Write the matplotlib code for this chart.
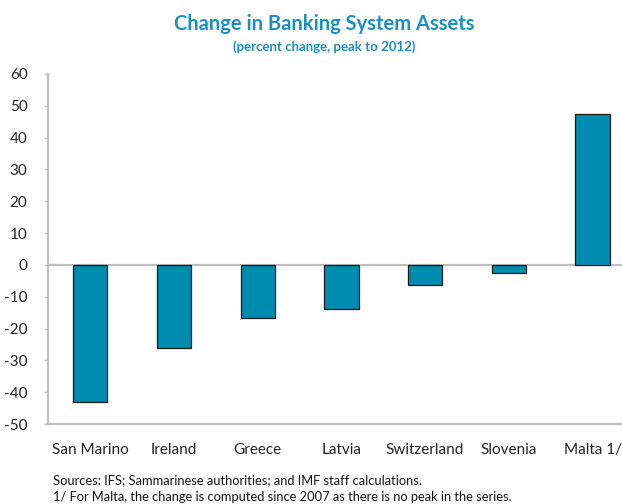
import matplotlib
matplotlib.use("Agg")
from matplotlib import pyplot as plt

# Values
countries = ["San Marino", "Ireland", "Greece", "Latvia", "Switzerland", "Slovenia", "Malta 1/"]
change = [-43.0, -26.0, -16.7, -13.8, -6.4, -2.6, 47.4]
yticks = [60, 50, 40, 30, 20, 10, 0, -10, -20, -30, -40, -50]

title = "Change in Banking System Assets"
subtitle = "(percent change, peak to 2012)"
notes = [
    "Sources: IFS; Sammarinese authorities; and IMF staff calculations.",
    "1/ For Malta, the change is computed since 2007 as there is no peak in the series.",
]

bar_color = "#008BB0"
title_color = "#1A8FC0"
axis_gray = "#BFBFBF"

plt.rcParams["font.family"] = ["Lato", "DejaVu Sans"]

fig = plt.figure(figsize=(6.22, 5.04), dpi=100)
ax = fig.add_axes([0.0777, 0.1587, 0.9424, 0.6945])

x = range(len(countries))
ax.bar(x, change, width=0.41, color=bar_color, edgecolor="#1a1a1a", linewidth=0.9, zorder=2)

ax.set_xlim(-0.5, len(countries) - 0.5)
ax.set_ylim(-50, 60)
ax.set_yticks(yticks)
ax.set_yticklabels([str(v) for v in yticks], fontsize=11, color="#222222")
ax.set_xticks(list(x))
ax.set_xticklabels(countries, fontsize=11, color="#222222")

ax.axhline(0, color=axis_gray, linewidth=1.6, zorder=1)

for side in ["top", "right"]:
    ax.spines[side].set_visible(False)
for side in ["left", "bottom"]:
    ax.spines[side].set_color(axis_gray)
    ax.spines[side].set_linewidth(1.6)

ax.tick_params(axis="y", direction="out", length=3, width=1, color=axis_gray, pad=12)
ax.tick_params(axis="x", length=0, pad=14)

fig.text(0.521, 0.952, title, ha="center", va="center", fontsize=14.5,
         fontweight="bold", color=title_color)
fig.text(0.521, 0.908, subtitle, ha="center", va="center", fontsize=9.5,
         fontweight="bold", color=title_color)

fig.text(0.085, 0.048, notes[0], ha="left", va="center", fontsize=9.3, color="#111111")
fig.text(0.085, 0.013, notes[1], ha="left", va="center", fontsize=9.3, color="#111111")

fig.savefig("out.png", dpi=100)
